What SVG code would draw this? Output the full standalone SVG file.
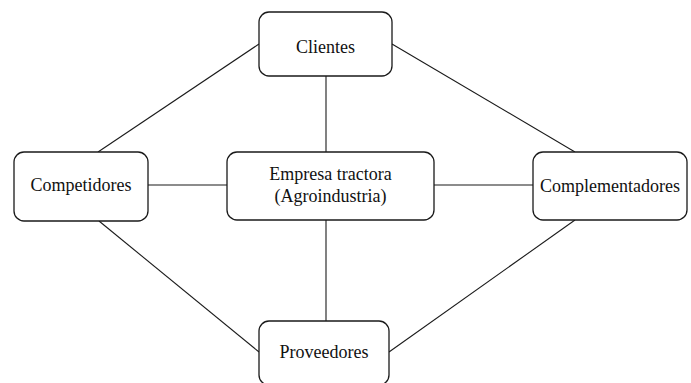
<svg xmlns="http://www.w3.org/2000/svg" width="691" height="383" viewBox="0 0 691 383">
<style>
.box{fill:#fff;stroke:#1a1a1a;stroke-width:1.3}
.ln{stroke:#1a1a1a;stroke-width:1.1;fill:none}
text{font-family:"Liberation Serif","Times New Roman",serif;font-size:18px;fill:#111;text-anchor:middle}
</style>
<rect width="691" height="383" fill="#fff"/>
<g id="connectors">
<line class="ln" x1="326" y1="76" x2="326" y2="152"/>
<line class="ln" x1="326" y1="220" x2="326" y2="321"/>
<line class="ln" x1="148" y1="185" x2="227" y2="185"/>
<line class="ln" x1="434" y1="185" x2="533" y2="185"/>
<line class="ln" x1="259" y1="44" x2="98" y2="152"/>
<line class="ln" x1="392" y1="44" x2="575" y2="152"/>
<line class="ln" x1="99" y1="221" x2="259" y2="352"/>
<line class="ln" x1="575" y1="220" x2="389" y2="352"/>
</g>
<g id="clientes">
<rect class="box" x="259" y="12" width="133" height="64" rx="10"/>
<text x="325.5" y="53">Clientes</text>
</g>
<g id="empresa">
<rect class="box" x="227" y="152" width="207" height="68" rx="10"/>
<text x="330.5" y="180">Empresa tractora</text>
<text x="330.5" y="202">(Agroindustria)</text>
</g>
<g id="competidores">
<rect class="box" x="14" y="152" width="134" height="69" rx="10"/>
<text x="81" y="191">Competidores</text>
</g>
<g id="complementadores">
<rect class="box" x="533" y="152" width="154" height="68" rx="10"/>
<text x="610" y="192">Complementadores</text>
</g>
<g id="proveedores">
<rect class="box" x="259" y="321" width="130" height="64" rx="10"/>
<text x="324" y="358">Proveedores</text>
</g>
</svg>
